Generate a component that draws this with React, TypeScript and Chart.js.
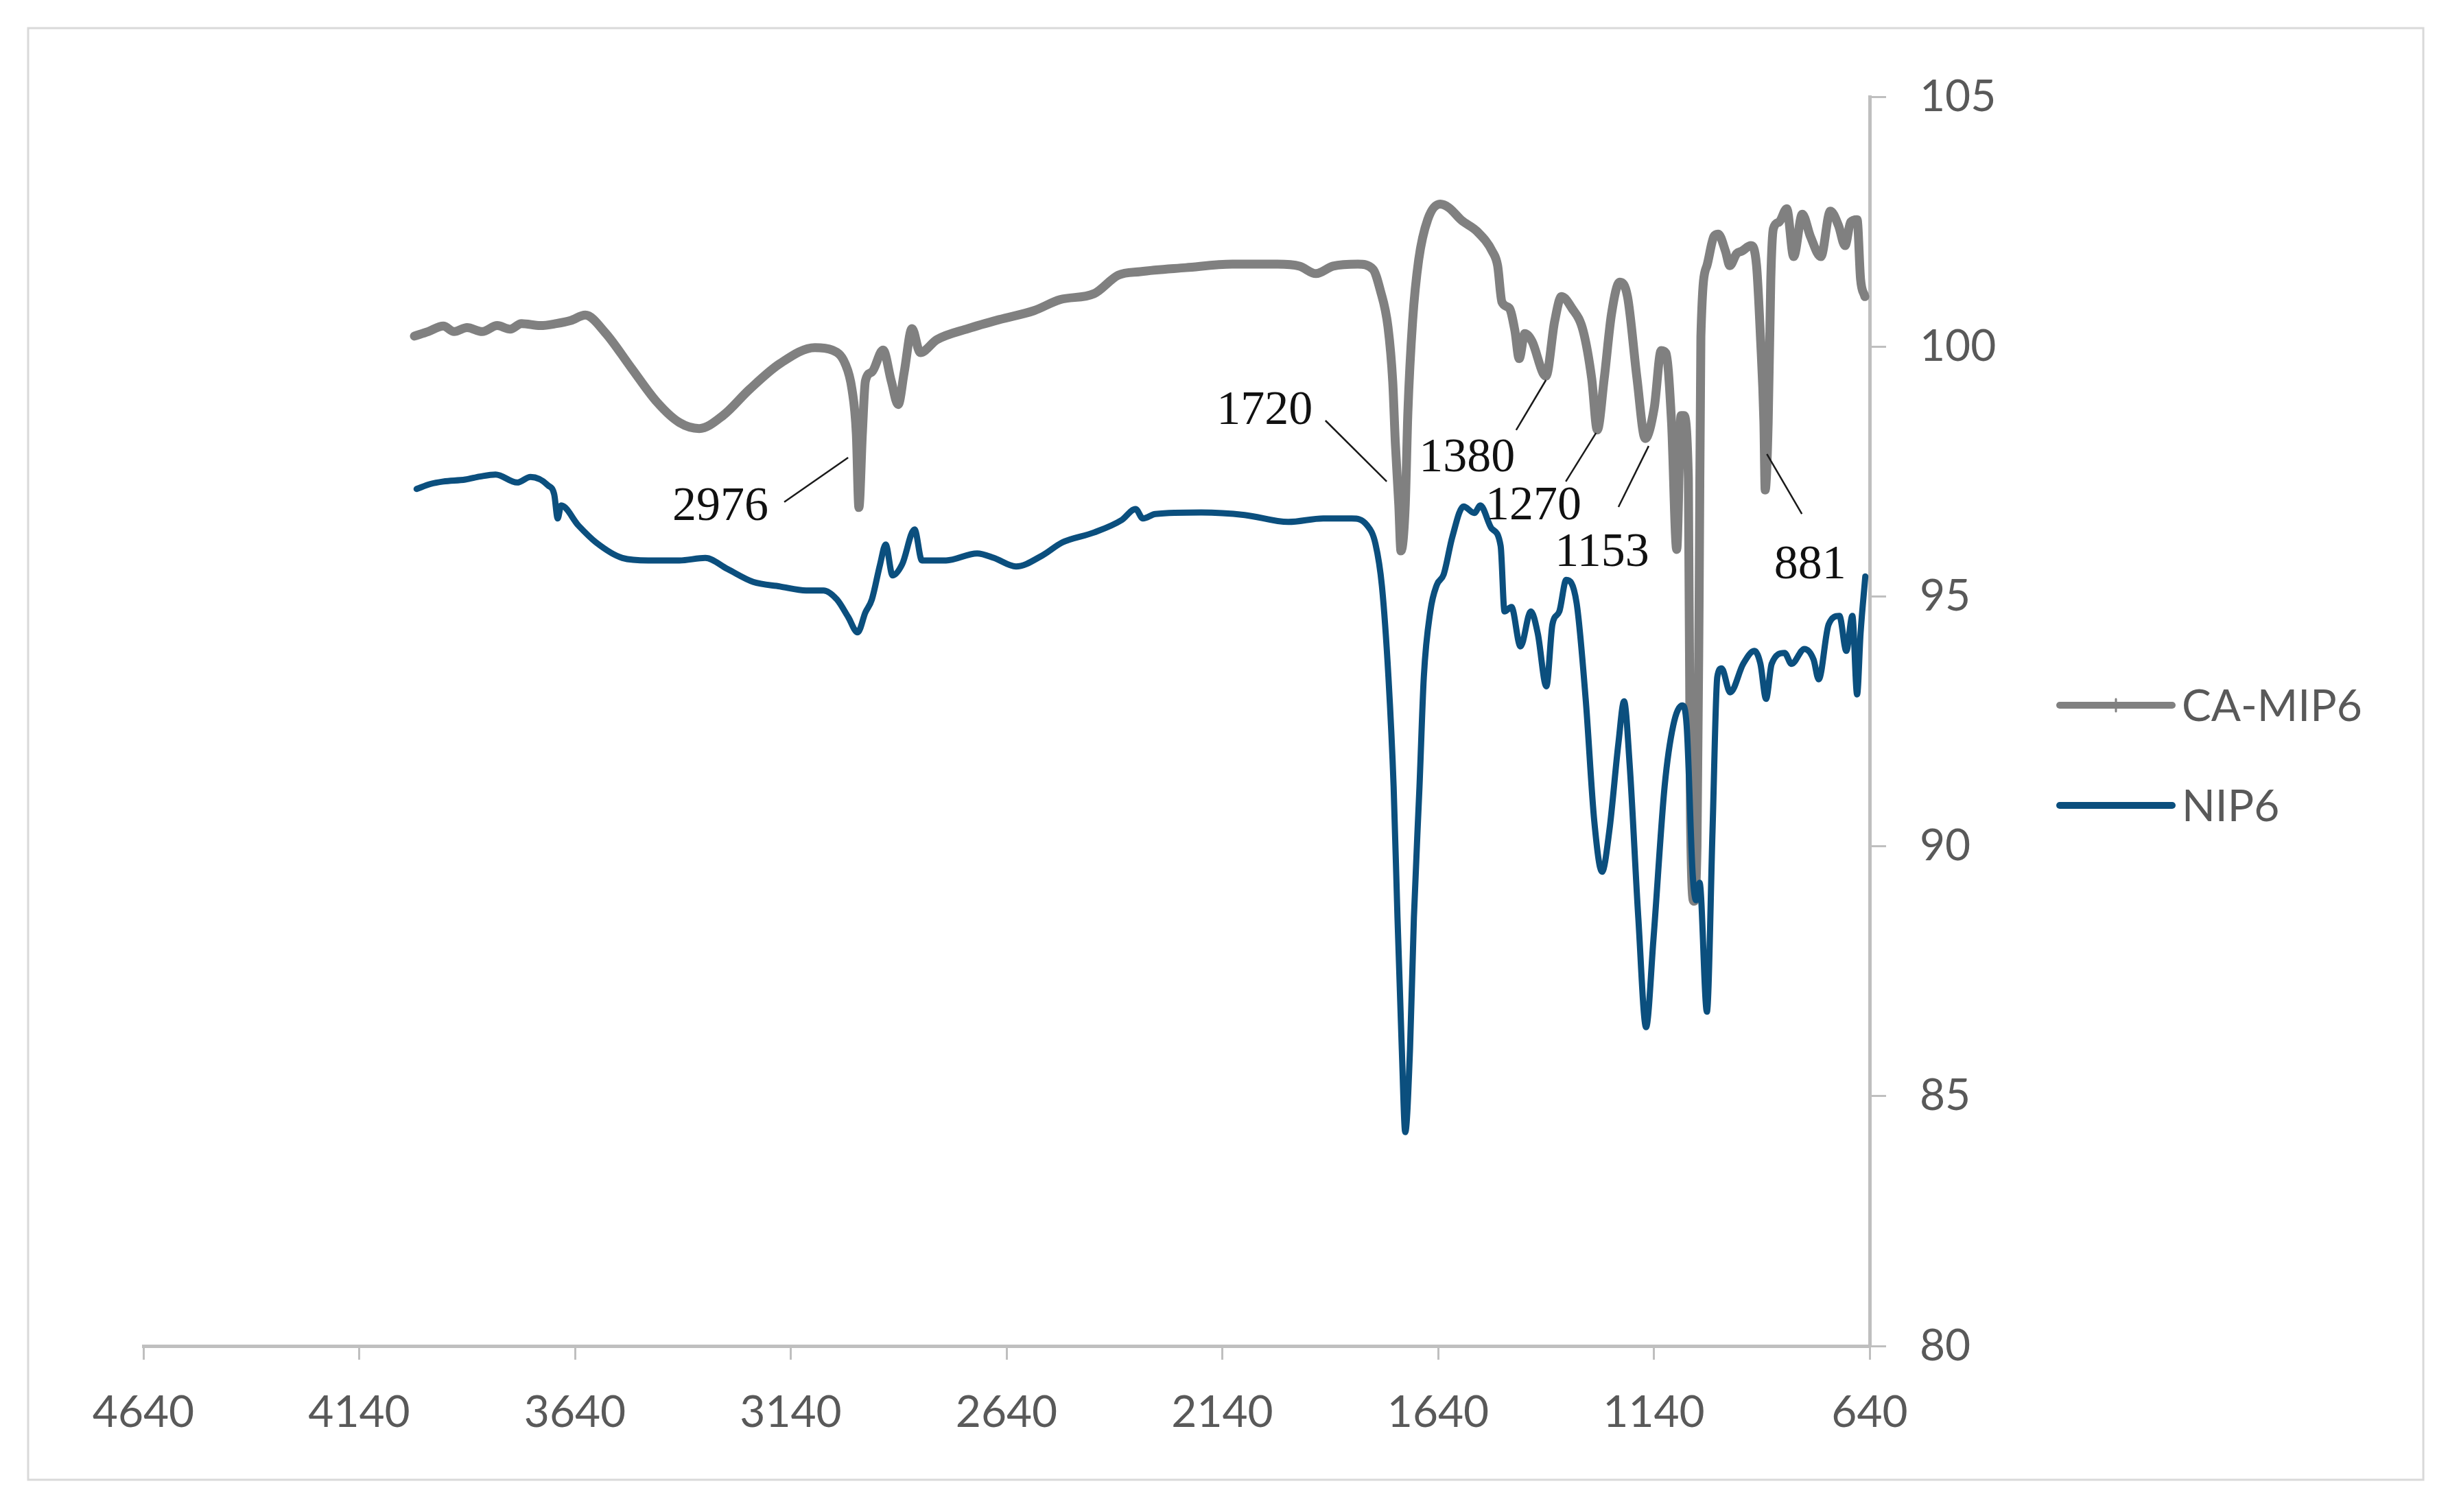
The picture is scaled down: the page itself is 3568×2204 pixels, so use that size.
import React, { useEffect, useRef } from 'react';
import { Chart, registerables } from 'chart.js';

Chart.register(...registerables);

// ---- Data (wavenumber cm-1, transmittance %) ----
const seriesNames = ['CA-MIP6', 'NIP6'];

const caWavenumber = [
  4012, 3980, 3945, 3920, 3890, 3855, 3820, 3790, 3764, 3720, 3683, 3650, 3616, 3570, 3510, 3449, 3398, 3352,
  3297, 3236, 3165, 3084, 3044, 3014, 2998, 2988, 2982, 2974, 2967, 2952, 2926, 2907, 2891, 2877, 2859, 2840,
  2801, 2729, 2657, 2576, 2516, 2437, 2381, 2330, 2224, 2117, 2012, 1961, 1923, 1883, 1826, 1791, 1774, 1756,
  1745, 1739, 1731, 1726, 1716, 1710, 1699, 1685, 1664, 1635, 1615, 1586, 1549, 1514, 1502, 1492, 1475, 1462,
  1452, 1439, 1422, 1397, 1390, 1370, 1354, 1330, 1304, 1284, 1271, 1255, 1238, 1219, 1201, 1179, 1160, 1139,
  1123, 1112, 1099, 1087, 1077, 1071, 1060, 1055, 1047, 1040, 1035, 1031, 1017, 1001, 991, 974, 964, 948, 936,
  915, 902, 893, 885, 882, 875, 869, 863, 850, 832, 816, 796, 777, 753, 731, 712, 697, 684, 669, 661, 651,
];
const caTransmittance = [
  100.21, 100.3, 100.41, 100.3, 100.38, 100.3, 100.42, 100.35, 100.46, 100.42, 100.46, 100.52, 100.63, 100.28,
  99.58, 98.88, 98.48, 98.36, 98.62, 99.14, 99.66, 99.98, 99.93, 99.66, 99.14, 98.26, 96.78, 98.26, 99.31,
  99.49, 99.93, 99.31, 98.84, 99.49, 100.36, 99.88, 100.14, 100.36, 100.54, 100.72, 100.94, 101.06, 101.43,
  101.5, 101.58, 101.65, 101.65, 101.61, 101.46, 101.61, 101.65, 101.55, 101.13, 100.39, 99.29, 98.07, 96.83,
  95.91, 96.83, 98.67, 100.51, 101.73, 102.54, 102.85, 102.78, 102.53, 102.3, 101.9, 101.62, 100.89, 100.77,
  100.32, 99.76, 100.26, 100.1, 99.47, 99.41, 100.5, 101.0, 100.77, 100.32, 99.36, 98.33, 99.36, 100.66,
  101.29, 101.0, 99.36, 98.16, 98.78, 99.92, 99.87, 98.49, 95.94, 98.62, 98.62, 97.37, 90.5, 88.9, 90.0, 95.0,
  100.2, 101.62, 102.2, 102.25, 101.91, 101.62, 101.86, 101.91, 102.02, 101.62, 100.2, 98.49, 97.13, 98.49,
  101.35, 102.36, 102.49, 102.76, 101.8, 102.65, 102.2, 101.8, 102.71, 102.42, 102.02, 102.49, 102.54,
  101.35, 101.0,
];

const nipWavenumber = [
  4007, 3975, 3945, 3894, 3860, 3824, 3774, 3743, 3702, 3688, 3680, 3672, 3632, 3591, 3530, 3470, 3398, 3338,
  3287, 3227, 3165, 3104, 3064, 3033, 3007, 2985, 2967, 2952, 2933, 2920, 2904, 2882, 2853, 2836, 2780, 2708,
  2669, 2618, 2557, 2511, 2437, 2373, 2341, 2324, 2295, 2189, 2088, 1987, 1906, 1840, 1805, 1785, 1770, 1755,
  1743, 1734, 1724, 1716, 1705, 1696, 1683, 1673, 1658, 1643, 1627, 1607, 1581, 1556, 1542, 1516, 1495, 1486,
  1470, 1449, 1425, 1409, 1389, 1375, 1359, 1343, 1319, 1298, 1278, 1260, 1243, 1222, 1209, 1196, 1176, 1158,
  1141, 1115, 1095, 1074, 1064, 1050, 1042, 1034, 1017, 1004, 993, 983, 963, 933, 907, 893, 880, 867, 837, 821,
  791, 770, 758, 735, 710, 694, 680, 669, 661, 650,
];
const nipTransmittance = [
  97.15, 97.25, 97.3, 97.34, 97.4, 97.44, 97.28, 97.39, 97.22, 97.04, 96.56, 96.82, 96.42, 96.08, 95.77, 95.72,
  95.72, 95.77, 95.55, 95.29, 95.2, 95.12, 95.12, 94.94, 94.59, 94.28, 94.68, 94.94, 95.64, 96.04, 95.42, 95.64,
  96.34, 95.72, 95.72, 95.86, 95.77, 95.6, 95.82, 96.08, 96.28, 96.53, 96.75, 96.56, 96.65, 96.68, 96.63, 96.49,
  96.56, 96.56, 96.43, 96.05, 95.2, 93.39, 91.2, 88.57, 85.94, 84.28, 85.94, 88.57, 91.2, 93.39, 94.7, 95.23,
  95.44, 96.19, 96.8, 96.67, 96.82, 96.36, 96.01, 94.7, 94.79, 94.0, 94.7, 94.26, 93.2, 94.44, 94.7, 95.33,
  94.87, 92.95, 90.5, 89.49, 90.32, 92.07, 92.9, 91.63, 88.57, 86.38, 88.13, 91.2, 92.42, 92.82, 92.42, 89.44,
  88.92, 89.27, 86.69, 90.32, 93.39, 93.56, 93.08, 93.65, 93.91, 93.65, 92.95, 93.65, 93.87, 93.65, 93.95,
  93.74, 93.34, 94.44, 94.61, 93.91, 94.61, 93.04, 94.26, 95.4,
];

// axis ranges
const xMin = 640;
const xMax = 4640;
const xStep = 500;
const yMin = 80;
const yMax = 105;
const yStep = 5;

// peak annotations (wavenumber / transmittance coordinates)
const peakLabels = ['2976', '1720', '1380', '1270', '1153', '881'];
const peakLabelWn = [3303, 2042, 1573, 1419, 1260, 778];
const peakLabelT = [96.78, 98.7, 97.75, 96.79, 95.86, 95.62];
const leaderAWn = [3155, 1901, 1459, 1344, 1222, 797];
const leaderAT = [96.89, 98.52, 98.33, 97.3, 96.79, 96.65];
const leaderBWn = [3007, 1759, 1390, 1274, 1152, 878];
const leaderBT = [97.78, 97.3, 99.33, 98.27, 98.01, 97.85];

const GRAY = '#808080';
const BLUE = '#0B4F7E';
const AXIS = '#BFBFBF';
const TEXT = '#595959';
const SANS = 'Lato, "Open Sans", "Noto Sans", sans-serif';
const SERIF = '"Liberation Serif", "DejaVu Serif", serif';

const framePlugin = {
  id: 'frame',
  beforeDraw(chart: any) {
    const ctx = chart.ctx;
    ctx.save();
    ctx.fillStyle = '#ffffff';
    ctx.fillRect(0, 0, chart.width, chart.height);
    ctx.strokeStyle = '#D9D9D9';
    ctx.lineWidth = 3;
    ctx.strokeRect(41, 41, 3491, 2116);
    ctx.restore();
  },
};

const annotationPlugin = {
  id: 'peakAnnotations',
  afterDatasetsDraw(chart: any) {
    const ctx = chart.ctx;
    const xs = chart.scales.x;
    const ys = chart.scales.y;
    ctx.save();
    ctx.strokeStyle = '#1a1a1a';
    ctx.lineWidth = 2.5;
    ctx.fillStyle = '#111111';
    ctx.font = `70px ${SERIF}`;
    ctx.textAlign = 'center';
    ctx.textBaseline = 'middle';
    peakLabels.forEach((lab, i) => {
      ctx.beginPath();
      ctx.moveTo(xs.getPixelForValue(leaderAWn[i]), ys.getPixelForValue(leaderAT[i]));
      ctx.lineTo(xs.getPixelForValue(leaderBWn[i]), ys.getPixelForValue(leaderBT[i]));
      ctx.stroke();
      ctx.fillText(lab, xs.getPixelForValue(peakLabelWn[i]), ys.getPixelForValue(peakLabelT[i]));
    });
    ctx.restore();
  },
};

const legendPlugin = {
  id: 'sideLegend',
  afterDraw(chart: any) {
    const ctx = chart.ctx;
    const items = [
      { name: seriesNames[0], color: GRAY, width: 10, y: 1028, marker: true },
      { name: seriesNames[1], color: BLUE, width: 10, y: 1174, marker: false },
    ];
    ctx.save();
    items.forEach((it) => {
      ctx.strokeStyle = it.color;
      ctx.lineWidth = it.width;
      ctx.lineCap = 'round';
      ctx.beginPath();
      ctx.moveTo(3002, it.y);
      ctx.lineTo(3166, it.y);
      ctx.stroke();
      if (it.marker) {
        ctx.lineWidth = 3;
        ctx.beginPath();
        ctx.moveTo(3084, it.y - 9);
        ctx.lineTo(3084, it.y + 9);
        ctx.stroke();
      }
      ctx.fillStyle = TEXT;
      ctx.font = `64px ${SANS}`;
      ctx.textAlign = 'left';
      ctx.textBaseline = 'middle';
      ctx.fillText(it.name, 3180, it.y + 2);
    });
    ctx.restore();
  },
};

export default function App() {
  const ref = useRef<HTMLCanvasElement>(null);

  useEffect(() => {
    const canvas = ref.current;
    if (!canvas) return;
    const chart = new Chart(canvas, {
      type: 'line',
      data: {
        datasets: [
          {
            label: seriesNames[0],
            data: caWavenumber.map((x, i) => ({ x, y: caTransmittance[i] })),
            borderColor: GRAY,
            backgroundColor: GRAY,
            borderWidth: 13,
            pointRadius: 0,
            cubicInterpolationMode: 'monotone',
            borderJoinStyle: 'round',
            borderCapStyle: 'round',
            fill: false,
            order: 2,
          },
          {
            label: seriesNames[1],
            data: nipWavenumber.map((x, i) => ({ x, y: nipTransmittance[i] })),
            borderColor: BLUE,
            backgroundColor: BLUE,
            borderWidth: 9,
            pointRadius: 0,
            cubicInterpolationMode: 'monotone',
            borderJoinStyle: 'round',
            borderCapStyle: 'round',
            fill: false,
            order: 1,
          },
        ],
      },
      options: {
        responsive: false,
        maintainAspectRatio: false,
        animation: false,
        devicePixelRatio: 1,
        layout: { padding: { left: 209, top: 141, right: 543, bottom: 92 } },
        plugins: {
          legend: { display: false },
          tooltip: { enabled: false },
        },
        scales: {
          x: {
            type: 'linear',
            position: 'bottom',
            reverse: true,
            min: xMin,
            max: xMax,
            afterFit: (s: any) => {
              s.height = 150;
            },
            ticks: {
              stepSize: xStep,
              color: TEXT,
              font: { family: SANS, size: 64 },
              padding: 39,
              maxRotation: 0,
              autoSkip: false,
              callback: (v: any) => String(v),
            },
            grid: {
              drawOnChartArea: false,
              drawTicks: true,
              tickLength: 20,
              color: AXIS,
              lineWidth: 3,
            },
            border: { display: true, color: AXIS, width: 5 },
          },
          y: {
            type: 'linear',
            position: 'right',
            min: yMin,
            max: yMax,
            afterFit: (s: any) => {
              s.width = 300;
            },
            ticks: {
              stepSize: yStep,
              color: TEXT,
              font: { family: SANS, size: 64 },
              padding: 49,
              callback: (v: any) => String(v),
            },
            grid: {
              drawOnChartArea: false,
              drawTicks: true,
              tickLength: 24,
              color: AXIS,
              lineWidth: 3,
            },
            border: { display: true, color: AXIS, width: 5 },
          },
        },
      },
      plugins: [framePlugin, annotationPlugin, legendPlugin],
    } as any);
    return () => chart.destroy();
  }, []);

  return (
    <div style={{ position: 'absolute', left: 0, top: 0, width: 3568, height: 2204, background: '#ffffff' }}>
      <canvas ref={ref} width={3568} height={2204} style={{ display: 'block', width: 3568, height: 2204 }} />
    </div>
  );
}
